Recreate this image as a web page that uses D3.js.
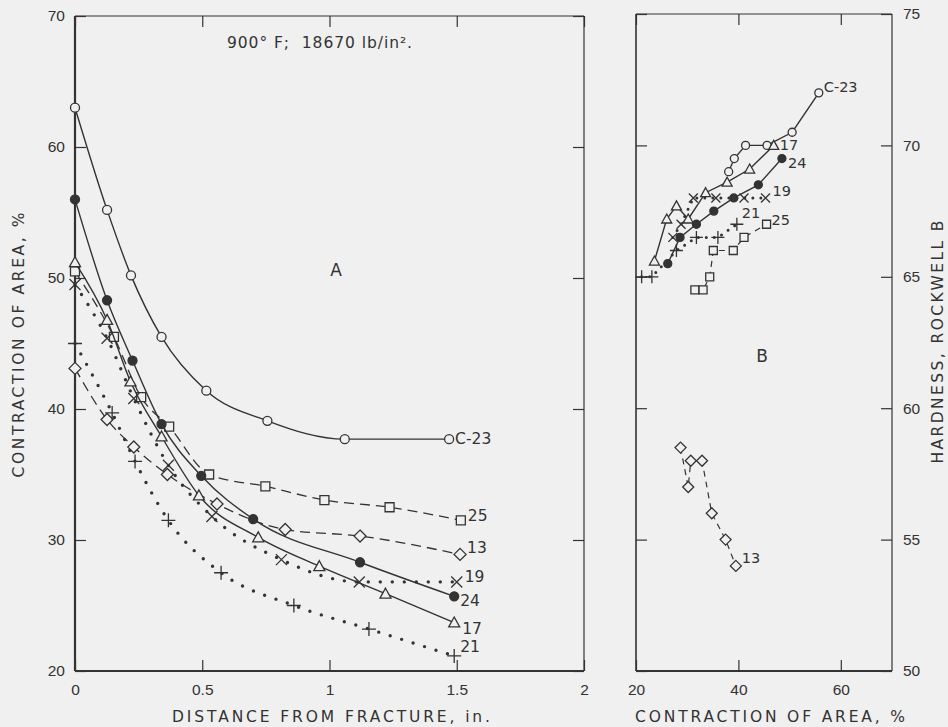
<!DOCTYPE html>
<html>
<head>
<meta charset="utf-8">
<script src="https://cdn.jsdelivr.net/npm/d3@7"></script>
<style>
  body { margin: 0; background: #f0f0f0; }
  svg { display: block; font-family: "DejaVu Sans", sans-serif; }
  .tick text { font-size: 15.5px; fill: #333; }
  .tick line { stroke: #333; stroke-width: 1.2; }
</style>
</head>
<body>
<svg id="chart" width="948" height="727"></svg>
<script>
// ---- panel A: contraction of area vs distance from fracture ----
const distC23 = [0, 0.126, 0.22, 0.34, 0.516, 0.756, 1.06, 1.47];
const caC23   = [63, 55.2, 50.2, 45.5, 41.4, 39.1, 37.7, 37.7];
const dist24  = [0, 0.126, 0.226, 0.34, 0.496, 0.70, 1.12, 1.49];
const ca24    = [56, 48.3, 43.7, 38.85, 34.9, 31.6, 28.3, 25.7];
const dist17  = [0, 0.126, 0.218, 0.34, 0.487, 0.72, 0.96, 1.22, 1.49];
const ca17    = [51.2, 46.8, 42.1, 37.9, 33.4, 30.2, 28.0, 25.9, 23.7];
const dist25  = [0, 0.153, 0.26, 0.37, 0.527, 0.748, 0.98, 1.236, 1.516];
const ca25    = [50.5, 45.5, 40.9, 38.65, 35.0, 34.1, 33.05, 32.5, 31.5];
const dist13  = [0, 0.126, 0.231, 0.363, 0.558, 0.826, 1.12, 1.513];
const ca13    = [43.1, 39.2, 37.1, 35.0, 32.75, 30.8, 30.3, 28.9];
const dist19  = [0, 0.126, 0.231, 0.367, 0.538, 0.811, 1.117, 1.5];
const ca19    = [49.5, 45.4, 40.8, 35.7, 31.8, 28.5, 26.8, 26.8];
const dist21  = [0, 0.146, 0.236, 0.367, 0.574, 0.86, 1.155, 1.49];
const ca21    = [45.0, 39.7, 36.0, 31.5, 27.5, 25.0, 23.2, 21.15];

// ---- panel B: hardness vs contraction of area ----
const caBC23 = [38.1, 39.2, 41.4, 45.6, 50.5, 55.7];
const hrC23  = [69.0, 69.5, 70.0, 70.0, 70.5, 72.0];
const caB17  = [23.6, 26.0, 27.9, 30.2, 33.6, 37.8, 42.2, 46.9];
const hr17   = [65.6, 67.2, 67.7, 67.2, 68.2, 68.6, 69.1, 70.0];
const caB24  = [26.2, 28.6, 31.8, 35.2, 39.1, 43.9, 48.5];
const hr24   = [65.5, 66.5, 67.0, 67.5, 68.0, 68.5, 69.5];
const caB19  = [27.2, 28.8, 31.2, 35.6, 41.1, 45.3];
const hr19   = [66.5, 67.0, 68.0, 68.0, 68.0, 68.0];
const caB21  = [21.1, 23.1, 27.9, 31.8, 36.0, 39.7];
const hr21   = [65.0, 65.0, 66.0, 66.5, 66.5, 67.0];
const caB25  = [31.5, 33.1, 34.4, 35.1, 39.0, 41.1, 45.5];
const hr25   = [64.5, 64.5, 65.0, 66.0, 66.0, 66.5, 67.0];
const caB13  = [28.7, 30.2, 30.7, 32.9, 34.8, 37.5, 39.5];
const hr13   = [58.5, 57.0, 58.0, 58.0, 56.0, 55.0, 54.0];

const xTicksA = [0, 0.5, 1, 1.5, 2];
const yTicksA = [20, 30, 40, 50, 60, 70];
const xTicksB = [20, 40, 60];
const yTicksB = [50, 55, 60, 65, 70, 75];

const ink = "#333";
const paper = "#f0f0f0";

// symbol types, size = half width in px
const symCircle = { draw(c, r) { c.moveTo(r, 0); c.arc(0, 0, r, 0, 2 * Math.PI); } };
const symSquare = { draw(c, r) { c.rect(-r, -r, 2 * r, 2 * r); } };
const symTriangle = { draw(c, r) { c.moveTo(0, -r); c.lineTo(r, r * 0.8); c.lineTo(-r, r * 0.8); c.closePath(); } };
const symDiamond = { draw(c, r) { c.moveTo(0, -r); c.lineTo(r, 0); c.lineTo(0, r); c.lineTo(-r, 0); c.closePath(); } };
const symX = { draw(c, r) { c.moveTo(-r, -r); c.lineTo(r, r); c.moveTo(r, -r); c.lineTo(-r, r); } };
const symPlus = { draw(c, r) { c.moveTo(-r, 0); c.lineTo(r, 0); c.moveTo(0, -r); c.lineTo(0, r); } };

const svg = d3.select("#chart");

const xA = d3.scaleLinear().domain([0, 2]).range([75, 584]);
const yA = d3.scaleLinear().domain([20, 70]).range([671, 16]);
const xB = d3.scaleLinear().domain([20, 70]).range([636, 892]);
const yB = d3.scaleLinear().domain([50, 75]).range([671, 14]);

function frame(x, y, thickLeft) {
    const [x0, x1] = x.range(), [y0, y1] = y.range();
    const g = svg.append("g").attr("stroke", ink).attr("fill", "none");
    g.append("line").attr("x1", x0).attr("x2", x1).attr("y1", y1).attr("y2", y1).attr("stroke-width", 1.2);
    g.append("line").attr("x1", x1).attr("x2", x1).attr("y1", y1).attr("y2", y0).attr("stroke-width", 1.2);
    g.append("line").attr("x1", x0).attr("x2", x0).attr("y1", y1).attr("y2", y0).attr("stroke-width", thickLeft);
    g.append("line").attr("x1", x0).attr("x2", x1).attr("y1", y0).attr("y2", y0).attr("stroke-width", 2);
}

function axes(x, y, xt, yt, yLabelsRight, fmtX) {
    const [x0, x1] = x.range(), [y0, y1] = y.range();
    svg.append("g").attr("transform", `translate(0,${y0})`)
        .call(d3.axisBottom(x).tickValues(xt).tickSize(-11).tickPadding(13).tickFormat(fmtX))
        .call(g => g.select(".domain").remove());
    svg.append("g").attr("transform", `translate(0,${y1})`)
        .call(d3.axisTop(x).tickValues(xt).tickSize(-11).tickFormat(""))
        .call(g => g.select(".domain").remove());
    svg.append("g").attr("transform", `translate(${x0},0)`)
        .call(d3.axisLeft(y).tickValues(yt).tickSize(-11).tickPadding(10)
            .tickFormat(yLabelsRight ? "" : d3.format("d")))
        .call(g => g.select(".domain").remove());
    svg.append("g").attr("transform", `translate(${x1},0)`)
        .call(d3.axisRight(y).tickValues(yt).tickSize(-11).tickPadding(11)
            .tickFormat(yLabelsRight ? d3.format("d") : ""))
        .call(g => g.select(".domain").remove());
}

frame(xA, yA, 2.2);
frame(xB, yB, 1.6);
axes(xA, yA, xTicksA, yTicksA, false, d3.format("~g"));
axes(xB, yB, xTicksB, yTicksB, true, d3.format("d"));

const solid = { dash: null, width: 1.4, cap: "butt" };
const dashedA = { dash: "10 6", width: 1.3, cap: "butt" };
const dottedA = { dash: "0 12", width: 3.4, cap: "round" };
const dashedB = { dash: "6 5", width: 1.2, cap: "butt" };
const dottedB = { dash: "0 8", width: 3, cap: "round" };

function series(x, y, xs, ys, style, sym, size, filled, label, ldx, ldy, fs, curve) {
    const pts = xs.map((v, i) => [v, ys[i]]);
    const line = d3.line().x(d => x(d[0])).y(d => y(d[1])).curve(curve);
    svg.append("path").datum(pts)
        .attr("d", line)
        .attr("fill", "none")
        .attr("stroke", ink)
        .attr("stroke-width", style.width)
        .attr("stroke-linecap", style.cap)
        .attr("stroke-dasharray", style.dash);
    const s = d3.symbol().type(sym).size(size);
    svg.append("g").selectAll("path").data(pts).join("path")
        .attr("transform", d => `translate(${x(d[0])},${y(d[1])})`)
        .attr("d", s)
        .attr("fill", filled ? ink : (sym === symX || sym === symPlus ? "none" : paper))
        .attr("stroke", ink)
        .attr("stroke-width", 1.3);
    const last = pts[pts.length - 1];
    svg.append("text")
        .attr("x", x(last[0]) + ldx)
        .attr("y", y(last[1]) + ldy)
        .attr("font-size", fs)
        .attr("fill", ink)
        .text(label);
}

const smooth = d3.curveMonotoneX;
const straight = d3.curveLinear;

// panel A
series(xA, yA, distC23, caC23, solid, symCircle, 4.5, false, "C-23", 6, 5, 15.5, smooth);
series(xA, yA, dist25, ca25, dashedA, symSquare, 4.5, false, "25", 7, 1, 15.5, smooth);
series(xA, yA, dist13, ca13, dashedA, symDiamond, 6, false, "13", 7, -1, 15.5, smooth);
series(xA, yA, dist19, ca19, dottedA, symX, 5.5, false, "19", 8, 0, 15.5, smooth);
series(xA, yA, dist24, ca24, solid, symCircle, 4.5, true, "24", 6, 10, 15.5, smooth);
series(xA, yA, dist17, ca17, solid, symTriangle, 5.5, false, "17", 8, 11, 15.5, smooth);
series(xA, yA, dist21, ca21, dottedA, symPlus, 7, false, "21", 6, -4, 15.5, smooth);

// panel B
series(xB, yB, caBC23, hrC23, solid, symCircle, 4, false, "C-23", 5, -1, 14.5, straight);
series(xB, yB, caB19, hr19, dottedB, symX, 4.5, false, "19", 7, -2, 14.5, straight);
series(xB, yB, caB21, hr21, dottedB, symPlus, 6.5, false, "21", 5, -6, 14.5, straight);
series(xB, yB, caB25, hr25, dashedB, symSquare, 4, false, "25", 5, 1, 14.5, straight);
series(xB, yB, caB17, hr17, solid, symTriangle, 5, false, "17", 6, 5, 14.5, straight);
series(xB, yB, caB24, hr24, solid, symCircle, 4, true, "24", 6, 9, 14.5, straight);
series(xB, yB, caB13, hr13, dashedB, symDiamond, 5.5, false, "13", 6, -3, 14.5, straight);

// annotations
svg.append("text").attr("x", 227).attr("y", 48).attr("font-size", 15.5).attr("fill", ink)
    .attr("textLength", 185).attr("lengthAdjust", "spacing")
    .style("white-space", "pre")
    .text("900° F;  18670 lb/in².");
svg.append("text").attr("x", 336).attr("y", 276).attr("text-anchor", "middle")
    .attr("font-size", 17).attr("fill", ink).text("A");
svg.append("text").attr("x", 762).attr("y", 362).attr("text-anchor", "middle")
    .attr("font-size", 17).attr("fill", ink).text("B");

// axis titles
function title(x, y, rot, len, txt) {
    svg.append("text")
        .attr("transform", `translate(${x},${y}) rotate(${rot})`)
        .attr("text-anchor", "middle")
        .attr("font-size", 15.5)
        .attr("fill", ink)
        .attr("textLength", len)
        .attr("lengthAdjust", "spacing")
        .text(txt);
}
title(331, 722, 0, 318, "DISTANCE FROM FRACTURE, in.");
title(770, 722, 0, 270, "CONTRACTION OF AREA, %");
title(24, 345, -90, 265, "CONTRACTION OF AREA, %");
title(943, 342, -90, 243, "HARDNESS, ROCKWELL B");
</script>
</body>
</html>
